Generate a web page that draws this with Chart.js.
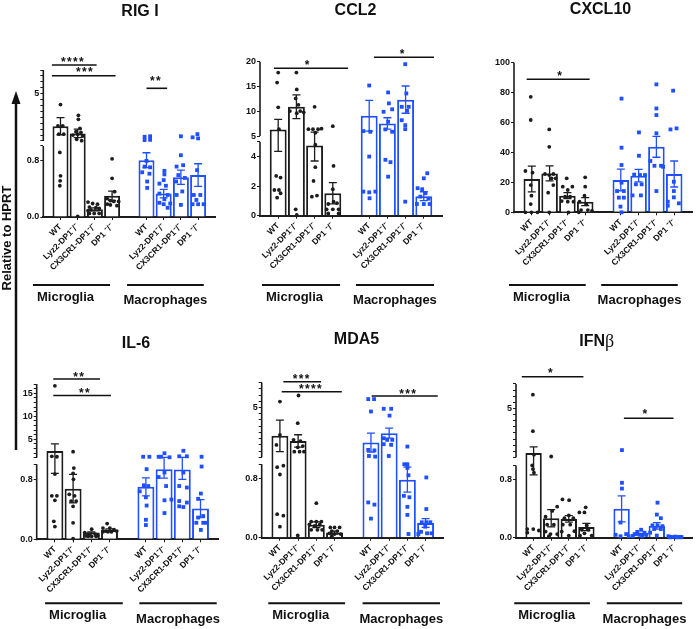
<!DOCTYPE html>
<html><head><meta charset="utf-8">
<script src="https://cdn.jsdelivr.net/npm/chart.js@4.4.1/dist/chart.umd.min.js"></script>
<style>
html,body{margin:0;padding:0;background:#fff;}
body{width:696px;height:629px;position:relative;overflow:hidden;font-family:"Liberation Sans",Arial,sans-serif;}
canvas{position:absolute;}
#ylab{position:absolute;left:-63px;top:230px;width:140px;height:16px;line-height:16px;text-align:center;font-weight:bold;font-size:13px;transform:rotate(-90deg);color:#111;white-space:nowrap;}
#arrow{position:absolute;left:0;top:0;}
</style></head><body>
<canvas id="c1"></canvas><canvas id="c2"></canvas><canvas id="c3"></canvas>
<canvas id="c4"></canvas><canvas id="c5"></canvas><canvas id="c6"></canvas>
<svg id="arrow" width="30" height="629"><line x1="16" y1="100" x2="16" y2="450" stroke="#111" stroke-width="2.5"/><polygon points="16,91 11.5,104 20.5,104" fill="#111"/></svg>
<div id="ylab">Relative to HPRT</div>
<script>
// ---------------- DATA ----------------
const categories = ['WT', 'Lyz2-DP1⁻/⁻', 'CX3CR1-DP1⁻/⁻', 'DP1 ⁻/⁻'];
const groups = ['Microglia', 'Macrophages'];

// RIG I
const rigI_mean = [2.25, 1.64, 0.108, 0.30, 0.80, 0.33, 0.56, 0.59];
const rigI_sem  = [0.72, 0.36, 0.02, 0.065, 0.105, 0.06, 0.10, 0.16];
const rigI_pts = [
 [[0,4.08],[-0.15,2.28],[0.13,2.28],[-0.1,1.58],[0.19,1.58],[-0.04,0.91],[0,0.58],[-0.02,0.51],[-0.04,0.44]],
 [[0.04,3.17],[0.04,2.83],[0.13,2.06],[-0.1,1.78],[0.19,1.72],[-0.28,1.5],[0,1.56],[0.28,1.42],[-0.06,1.14],[0.23,1.03],[0,0.01]],
 [[-0.4,0.21],[-0.13,0.19],[0.15,0.18],[-0.32,0.14],[0.06,0.13],[0.25,0.12],[-0.23,0.10],[-0.4,0.09],[-0.04,0.05],[0.25,0.05],[-0.32,0.05]],
 [[0,0.82],[0,0.545],[0.15,0.356],[-0.28,0.26],[-0.1,0.23],[0.1,0.22],[0.38,0.22],[-0.28,0.18],[-0.1,0.17],[0.28,0.16]],
 [[-0.11,1.36],[0.21,1.4],[-0.11,1.08],[0.21,1.1],[0,0.79],[-0.11,0.71],[0.21,0.70],[-0.25,0.63],[0.17,0.61],[0.04,0.50],[0.04,0.41]],
 [[0.04,0.65],[0.04,0.60],[0,0.52],[-0.25,0.47],[0.13,0.44],[-0.25,0.33],[0.23,0.31],[0.04,0.25],[-0.25,0.20],[0,0.18],[0.38,0.19],[0.23,0.13]],
 [[0,1.4],[0,0.87],[0.13,0.73],[-0.25,0.71],[-0.15,0.59],[0.23,0.55],[-0.28,0.50],[0.08,0.36],[-0.25,0.31],[0,0.17]],
 [[-0.32,1.31],[-0.04,1.58],[0,1.22],[-0.06,0.66],[-0.25,0.31],[0.13,0.31],[-0.1,0.24],[-0.32,0.18],[0,0.18],[0.32,0.18]]
];
const rigI_yTicksLow = [0, 0.8], rigI_yTextLow = ['0.0', '0.8'];
const rigI_yTicksUp = [5], rigI_yTextUp = ['5'];

// CCL2
const ccl2_mean = [6.35, 10.9, 4.75, 1.52, 9.1, 7.55, 12.35, 1.32];
const ccl2_sem  = [2.0, 2.4, 1.05, 0.72, 3.1, 1.15, 2.75, 0.3];
const ccl2_pts = [
 [[0,17.8],[-0.06,15.8],[0,10.8],[0.04,6.4],[-0.11,2.69],[0.13,2.58],[-0.21,1.74],[0.04,1.74],[0.13,1.52],[-0.06,1.22]],
 [[0,17.8],[0.02,14.4],[-0.04,12.6],[0.11,11.3],[-0.36,10.05],[0.21,10.05],[0.4,9.8],[0.02,9.6],[-0.04,0.43],[0.02,0.05]],
 [[0,10.9],[-0.34,6.4],[-0.09,6.4],[0.19,6.4],[0.38,6.5],[0.04,5.67],[0.04,4.8],[0.04,3.28],[-0.06,2.35],[-0.15,1.29],[0.13,1.36]],
 [[0,7.0],[0.04,3.37],[0,1.79],[0.04,0.95],[-0.25,0.79],[0.23,0.85],[-0.34,0.43],[0,0.43],[0.32,0.43],[-0.25,0.15],[0.32,0.15]],
 [[0,15.2],[-0.32,6.0],[0.06,5.87],[0,4.0],[-0.32,1.63],[0,1.58],[0.34,1.63],[0.02,1.18]],
 [[0.04,13.8],[0.08,11.6],[-0.21,9.9],[0.26,10.4],[0.04,7.9],[-0.11,6.35],[0.26,5.87],[-0.11,3.78],[0.17,3.62],[0.04,2.64]],
 [[-0.02,19.5],[0.04,13.6],[-0.21,10.9],[0.17,10.9],[0.08,10.1],[-0.21,8.2],[-0.02,7.2],[-0.02,6.4],[-0.02,0.95]],
 [[0.19,2.87],[0,2.53],[-0.34,1.86],[-0.09,1.79],[0.09,1.52],[-0.19,1.29],[0.25,1.15],[-0.38,0.79],[0,0.79],[0.32,0.79]]
];
const ccl2_yTicksLow = [0, 2, 4], ccl2_yTextLow = ['0', '2', '4'];
const ccl2_yTicksUp = [5, 10, 15, 20], ccl2_yTextUp = ['5', '10', '15', '20'];

// CXCL10
const cxcl10_mean = [22.2, 26.0, 11.1, 7.1, 21.6, 24.5, 43.8, 25.6];
const cxcl10_sem  = [8.6, 5.0, 2.0, 2.7, 7.2, 4.2, 7.0, 8.7];
const cxcl10_pts = [
 [[-0.06,77.2],[-0.06,61.7],[-0.36,27.6],[0.04,26.5],[-0.06,18.2],[-0.02,11.1],[-0.06,5.5],[-0.36,0],[-0.02,0],[0.32,0]],
 [[-0.02,55.4],[-0.02,43.8],[-0.26,25.6],[-0.02,24.9],[0.21,25.6],[0.11,22.7],[0.34,22.7],[0.21,18.2],[-0.08,13.1],[-0.02,0]],
 [[-0.04,22.7],[0.02,14.9],[0.28,17.1],[-0.26,17.1],[-0.13,10.4],[0.15,10.4],[-0.32,7.5],[0.02,7.1],[0.34,7.1],[0.06,0]],
 [[0,23.4],[0,17.1],[-0.04,11.1],[-0.32,7.1],[0.06,5.3],[-0.23,1.5],[0.15,1.5],[0.38,1.0],[-0.36,0]],
 [[0.04,76],[0.04,43.2],[0.04,31.6],[0.04,19.8],[-0.21,14.2],[0.17,14.2],[-0.11,9.8],[0.17,9.8],[-0.02,3.8],[0.04,0]],
 [[0.02,53.4],[0.02,37.8],[-0.25,25.2],[0.08,24.9],[0.36,24.9],[-0.15,18.7],[0.17,18.7],[-0.34,11.3],[0.13,11.3]],
 [[0,85.5],[0,69.4],[0,65],[0,52.8],[-0.34,34.3],[-0.11,31.1],[0.26,31.1],[0.38,30.4],[0,14.2]],
 [[-0.06,81.3],[0.13,56.1],[-0.21,55.4],[-0.02,20.4],[-0.02,14.2],[-0.02,10],[-0.36,7.1],[-0.36,4.4],[0.26,6.0]]
];
const cxcl10_yTicks = [0, 20, 40, 60, 80, 100], cxcl10_yText = ['0', '20', '40', '60', '80', '100'];

// IL-6
const il6_mean = [2.43, 0.675, 0.09, 0.125, 0.70, 0.935, 0.93, 0.41];
const il6_sem  = [1.55, 0.19, 0.01, 0.015, 0.12, 0.12, 0.13, 0.12];
const il6_pts = [
 [[0,16.6],[-0.17,1.3],[0.11,1.2],[0,0.87],[-0.17,0.58],[0.11,0.58],[0,0.52],[-0.06,0.24],[0,0.17]],
 [[0,2.3],[0.04,0.95],[0,0.88],[0.02,0.8],[-0.21,0.6],[0.08,0.58],[-0.11,0.51],[0.17,0.51],[0,0.44],[0,0.22],[0,0.01]],
 [[0.02,0.135],[-0.36,0.09],[-0.17,0.07],[0.21,0.07],[-0.08,0.06],[0.36,0.05],[-0.3,0.045],[0.02,0.04],[0.26,0.04],[-0.17,0.04]],
 [[-0.13,0.21],[-0.36,0.15],[0.02,0.15],[0.25,0.13],[-0.21,0.11],[0.11,0.10],[0.4,0.11],[-0.36,0.10],[-0.08,0.10]],
 [[-0.15,1.2],[0.19,1.2],[0.04,0.935],[-0.11,0.72],[0.13,0.71],[-0.34,0.64],[0,0.56],[0.04,0.45],[0,0.26],[0,0.19]],
 [[-0.3,1.2],[0.02,1.96],[0.3,1.09],[-0.17,1.2],[0.02,0.89],[-0.3,0.83],[0.11,0.71],[0.02,0.52],[0.4,0.53],[0.02,0.35]],
 [[0.06,2.5],[-0.17,1.3],[0.25,1.3],[0.06,0.89],[-0.17,0.71],[0.25,0.69],[-0.17,0.51],[0.25,0.49],[-0.17,0.44],[0.06,0.43]],
 [[0.06,1.2],[0.06,0.97],[0.02,0.61],[-0.13,0.54],[0.15,0.31],[-0.13,0.29],[-0.23,0.22],[0.15,0.22],[0.34,0.22],[0.02,0.125]]
];
const il6_yTicksLow = [0, 0.8], il6_yTextLow = ['0.0', '0.8'];
const il6_yTicksUp = [5, 10, 15], il6_yTextUp = ['5', '10', '15'];

// MDA5
const mda5_mean = [2.72, 2.31, 0.176, 0.07, 2.18, 2.94, 0.79, 0.2];
const mda5_sem  = [1.27, 0.5, 0.04, 0.02, 0.76, 0.4, 0.17, 0.06];
const mda5_pts = [
 [[0,5.48],[0,2.8],[-0.19,1.99],[-0.15,0.96],[0.19,0.98],[0,0.86],[-0.15,0.32],[0.19,0.30],[0,0.15]],
 [[0.02,5.97],[-0.02,3.74],[-0.25,2.4],[0.13,2.3],[0.26,1.9],[-0.02,1.8],[-0.21,1.45],[0.08,1.45],[0.32,1.45],[-0.02,0.03]],
 [[0,0.47],[-0.28,0.22],[0,0.22],[0.28,0.22],[-0.38,0.18],[-0.09,0.16],[0.19,0.18],[-0.28,0.107],[0.06,0.107],[0.32,0.107]],
 [[-0.23,0.14],[0,0.14],[0.28,0.14],[-0.15,0.09],[0.15,0.09],[-0.28,0.06],[0,0.05],[0.34,0.05],[-0.15,0.02]],
 [[-0.15,5.68],[0.17,5.68],[0,4.68],[-0.15,1.59],[0.19,1.55],[-0.11,1.1],[0.23,1.05],[-0.15,0.48],[0.19,0.45],[0,0.26]],
 [[-0.3,4.9],[0.11,4.9],[0.02,4.35],[-0.3,2.53],[-0.11,2.4],[0.17,2.4],[-0.3,2.05],[0.11,2.0],[-0.02,1.1]],
 [[0,1.86],[-0.17,1.0],[0,1.0],[0,0.95],[0.06,0.85],[-0.19,0.57],[0.11,0.55],[0,0.42],[0,0.31],[0.06,0.05]],
 [[0.04,0.82],[0.04,0.39],[-0.21,0.21],[0.04,0.21],[0.26,0.21],[-0.02,0.15],[-0.25,0.08],[0.08,0.06],[0.32,0.06],[-0.4,0.05]]
];
const mda5_yTicksLow = [0, 0.8], mda5_yTextLow = ['0.0', '0.8'];
const mda5_yTicksUp = [5], mda5_yTextUp = ['5'];

// IFNβ
const ifnb_mean = [1.37, 0.27, 0.26, 0.147, 0.40, 0.05, 0.165, 0.01];
const ifnb_sem  = [0.5, 0.12, 0.045, 0.05, 0.18, 0.01, 0.045, 0.003];
const ifnb_pts = [
 [[-0.04,6.13],[-0.04,3.15],[0.02,1.23],[-0.08,1.0],[-0.04,0.95],[0.02,0.9],[-0.36,0.12],[-0.02,0.12],[0.3,0.1],[-0.36,0.07]],
 [[0,1.08],[0.34,0.43],[0.06,0.37],[-0.32,0.29],[0.15,0.18],[-0.23,0.18],[-0.32,0.085],[-0.04,0.05],[0.34,0.05],[-0.13,0.02]],
 [[-0.36,0.53],[0.02,0.52],[0,0.31],[-0.25,0.27],[0.26,0.27],[-0.34,0.18],[0.08,0.18],[-0.4,0.085],[0.32,0.09],[0,0.03]],
 [[-0.04,0.42],[-0.11,0.35],[-0.4,0.35],[0.02,0.17],[-0.26,0.11],[0.11,0.11],[-0.11,0.06],[-0.36,0.03],[0.3,0.03]],
 [[0.02,1.6],[0.02,0.76],[0.02,0.68],[-0.06,0.21],[-0.34,0.04],[-0.06,0.02],[0.26,0.05],[0.4,0.02]],
 [[0.11,0.11],[-0.11,0.08],[0.3,0.07],[-0.26,0.05],[0.02,0.04],[0.4,0.04],[-0.36,0.02],[0.17,0.02]],
 [[0.04,0.485],[0,0.32],[0.23,0.27],[-0.25,0.17],[0.04,0.17],[0.32,0.16],[-0.15,0.12],[0.23,0.12],[-0.38,0.07],[0,0.03]],
 [[-0.34,0.02],[-0.15,0.01],[0.04,0.015],[0.23,0.01],[0.4,0.01],[-0.25,0.005],[0.11,0.005],[0.32,0.005]]
];
const ifnb_yTicksLow = [0, 0.8], ifnb_yTextLow = ['0.0', '0.8'];
const ifnb_yTicksUp = [5], ifnb_yTextUp = ['5'];

// ---------------- STYLE / LAYOUT ----------------
const FONT = '"Liberation Sans", Arial, Helvetica, sans-serif';
const MIC = '#1c1c1c', MAC = '#1f50ff';
const SLOTS = [1, 2, 3, 4, 6, 7, 8, 9];
const EPS = 1e-6;

// broken (two-segment) linear axis, built on Chart.js LinearScale
const LinearScale = Chart.LinearScale || Chart.registry.getScale('linear');
class BrokenScale extends LinearScale {
  getPixelForValue(value) {
    const b = this.$brk;
    if (!b) return super.getPixelForValue(value);
    const h = this.bottom - this.top;
    const lowH = h * b.lowFrac, upH = h - lowH - b.gap;
    if (value <= b.lowMax) return this.bottom - lowH * (value / b.lowMax);
    const f = Math.max(0, (value - b.upMin) / (b.upMax - b.upMin));
    return this.bottom - lowH - b.gap - upH * f;
  }
  getValueForPixel(pixel) {
    const b = this.$brk;
    if (!b) return super.getValueForPixel(pixel);
    const h = this.bottom - this.top;
    const lowH = h * b.lowFrac, upH = h - lowH - b.gap;
    const d = this.bottom - pixel;
    if (d <= lowH) return b.lowMax * d / lowH;
    return b.upMin + (b.upMax - b.upMin) * Math.max(0, d - lowH - b.gap) / upH;
  }
}
BrokenScale.id = 'broken';
BrokenScale.defaults = LinearScale.defaults;
Chart.register(BrokenScale);

const panels = [
 {id:'c1', L:18, T:0, W:222, H:312, area:{l:43.3, t:70, r:215.3, b:217},
  title:[['RIG I']], titleX:140, titleY:12,
  mean:rigI_mean, sem:rigI_sem, pts:rigI_pts,
  yLow:rigI_yTicksLow, yLowT:rigI_yTextLow, yUp:rigI_yTicksUp, yUpT:rigI_yTextUp,
  brk:{lowMax:1, upMin:1, upMax:7, lowFrac:0.483, gap:5, step:0.5},
  sig:[{x1:0.5,x2:3.1,y:65,t:'****',tx:1.73,ty:59.3},{x1:0.5,x2:4.2,y:75.7,t:'***',tx:2.42,ty:69.3},{x1:6.0,x2:7.2,y:88.3,t:'**',tx:6.55,ty:77.7}],
  spans:[[-0.6,3.88],[4.87,9.33]], lineY:285, textY:[301,304]},
 {id:'c2', L:236, T:0, W:228, H:312, area:{l:260, t:61.7, r:442, b:215.7},
  title:[['CCL2']], titleX:355.5, titleY:11,
  mean:ccl2_mean, sem:ccl2_sem, pts:ccl2_pts,
  yLow:ccl2_yTicksLow, yLowT:ccl2_yTextLow, yUp:ccl2_yTicksUp, yUpT:ccl2_yTextUp,
  brk:{lowMax:5, upMin:5, upMax:20, lowFrac:0.48, gap:5.7, step:5},
  sig:[{x1:0.77,x2:4.84,y:68.3,t:'*',tx:2.62,ty:61.7},{x1:6.26,x2:9.56,y:57.3,t:'*',tx:7.84,ty:51}],
  spans:[[0.11,4.4],[5.27,9.56]], lineY:285, textY:[301,304]},
 {id:'c3', L:470, T:0, W:226, H:312, area:{l:514, t:62.7, r:695, b:212.3},
  title:[['CXCL10']], titleX:600.5, titleY:10,
  mean:cxcl10_mean, sem:cxcl10_sem, pts:cxcl10_pts,
  yTicks:cxcl10_yTicks, yText:cxcl10_yText, yMax:100,
  sig:[{x1:0.71,x2:4.25,y:79.3,t:'*',tx:2.6,ty:73.3}],
  spans:[[-0.28,4.03],[4.9,9.2]], lineY:285, textY:[301,304]},
 {id:'c4', L:18, T:318, W:222, H:311, area:{l:36.7, t:384, r:218.7, b:539.3},
  title:[['IL-6']], titleX:136, titleY:344,
  mean:il6_mean, sem:il6_sem, pts:il6_pts,
  yLow:il6_yTicksLow, yLowT:il6_yTextLow, yUp:il6_yTicksUp, yUpT:il6_yTextUp,
  brk:{lowMax:1, upMin:1, upMax:17, lowFrac:0.483, gap:6.6, step:1},
  sig:[{x1:0.91,x2:3.48,y:379,t:'**',tx:2.34,ty:374},{x1:0.91,x2:4.08,y:395.5,t:'**',tx:2.65,ty:390}],
  spans:[[0.46,4.73],[5.64,9.89]], lineY:603.3, textY:[619,623]},
 {id:'c5', L:236, T:318, W:228, H:311, area:{l:261.7, t:382.7, r:443.8, b:537.7},
  title:[['MDA5']], titleX:356.5, titleY:340,
  mean:mda5_mean, sem:mda5_sem, pts:mda5_pts,
  yLow:mda5_yTicksLow, yLowT:mda5_yTextLow, yUp:mda5_yTicksUp, yUpT:mda5_yTextUp,
  brk:{lowMax:1, upMin:1, upMax:7, lowFrac:0.474, gap:7, step:0.5},
  sig:[{x1:1.19,x2:3.26,y:381.7,t:'***',tx:2.2,ty:376},{x1:1.1,x2:4.4,y:391.7,t:'****',tx:2.71,ty:386},{x1:6.04,x2:9.67,y:396,t:'***',tx:8.05,ty:391}],
  spans:[[0.36,4.58],[5.54,9.79]], lineY:603.3, textY:[619,623]},
 {id:'c6', L:470, T:318, W:226, H:311, area:{l:516, t:384, r:695, b:537.7},
  title:[['IFN'],['β','18px "Liberation Serif", "DejaVu Serif", serif']], titleX:596.7, titleY:342,
  mean:ifnb_mean, sem:ifnb_sem, pts:ifnb_pts,
  yLow:ifnb_yTicksLow, yLowT:ifnb_yTextLow, yUp:ifnb_yTicksUp, yUpT:ifnb_yTextUp,
  brk:{lowMax:1, upMin:1, upMax:7, lowFrac:0.47, gap:8, step:0.5},
  sig:[{x1:0.33,x2:3.83,y:376.7,t:'*',tx:1.99,ty:370},{x1:6.13,x2:8.95,y:418.3,t:'*',tx:7.36,ty:410.5}],
  spans:[[-0.1,4.2],[5.16,9.44]], lineY:603.3, textY:[619,623]}
];

function xLabel(v) {
  const i = SLOTS.indexOf(v);
  return i < 0 ? '' : categories[i % 4];
}

function yTickList(p) {
  const out = [];
  if (!p.brk) {
    p.yTicks.forEach((v, i) => out.push({value: v, lbl: p.yText[i]}));
    return out;
  }
  const b = p.brk;
  p.yLow.forEach((v, i) => out.push({value: v, lbl: p.yLowT[i]}));
  if (p.yLow.indexOf(b.lowMax) < 0) out.push({value: b.lowMax, lbl: ''});
  for (let k = 0; ; k++) {
    const v = Math.round((b.upMin + k * b.step) * 1000) / 1000;
    if (v > b.upMax + EPS) break;
    const j = p.yUp.indexOf(v);
    out.push({value: v === b.upMin ? v + EPS : v, lbl: j >= 0 ? p.yUpT[j] : ''});
  }
  return out;
}

function makeDeco(p) {
  return {
    id: 'deco_' + p.id,
    beforeDatasetsDraw(chart) {
      const ctx = chart.ctx, ys = chart.scales.y, ca = chart.chartArea;
      ctx.save();
      ctx.strokeStyle = MIC; ctx.lineWidth = 1.6;
      const segs = p.brk ? [[0, p.brk.lowMax], [p.brk.upMin + EPS, p.brk.upMax]] : [[0, p.yMax]];
      segs.forEach(([a, b]) => {
        ctx.beginPath();
        ctx.moveTo(ca.left, ys.getPixelForValue(a) + (a === 0 ? 1 : 0));
        ctx.lineTo(ca.left, ys.getPixelForValue(b));
        ctx.stroke();
      });
      ctx.restore();
    },
    afterDatasetsDraw(chart) {
      const ctx = chart.ctx, xs = chart.scales.x, ys = chart.scales.y;
      ctx.save();
      ctx.lineWidth = 1.3;
      p.mean.forEach((m, i) => {
        const x = xs.getPixelForValue(SLOTS[i]);
        const hi = ys.getPixelForValue(m + p.sem[i]);
        const lo = ys.getPixelForValue(Math.max(0, m - p.sem[i]));
        ctx.strokeStyle = i < 4 ? MIC : MAC;
        ctx.beginPath();
        ctx.moveTo(x, hi); ctx.lineTo(x, lo);
        ctx.moveTo(x - 4, hi); ctx.lineTo(x + 4, hi);
        ctx.moveTo(x - 4, lo); ctx.lineTo(x + 4, lo);
        ctx.stroke();
      });
      ctx.restore();
    },
    afterDraw(chart) {
      const ctx = chart.ctx, xs = chart.scales.x;
      ctx.save();
      // title
      const runs = p.title.map(r => ({t: r[0], f: r[1] || ('bold 16px ' + FONT)}));
      let tw = 0;
      runs.forEach(r => { ctx.font = r.f; r.w = ctx.measureText(r.t).width; tw += r.w; });
      let tx = p.titleX - p.L - tw / 2;
      ctx.fillStyle = '#111'; ctx.textBaseline = 'middle'; ctx.textAlign = 'left';
      runs.forEach(r => { ctx.font = r.f; ctx.fillText(r.t, tx, p.titleY - p.T); tx += r.w; });
      // significance bars
      ctx.strokeStyle = '#111'; ctx.lineWidth = 1.6;
      ctx.font = 'bold 12px ' + FONT; ctx.textAlign = 'center'; ctx.textBaseline = 'alphabetic';
      try { ctx.letterSpacing = '1.3px'; } catch (e) {}
      p.sig.forEach(s => {
        const y = s.y - p.T;
        ctx.beginPath();
        ctx.moveTo(xs.getPixelForValue(s.x1), y);
        ctx.lineTo(xs.getPixelForValue(s.x2), y);
        ctx.stroke();
        ctx.fillText(s.t, xs.getPixelForValue(s.tx), s.ty - p.T + 7);
      });
      try { ctx.letterSpacing = '0px'; } catch (e) {}
      // group lines & labels
      ctx.lineWidth = 2;
      ctx.font = 'bold 13px ' + FONT;
      p.spans.forEach((sp, g) => {
        const a = xs.getPixelForValue(sp[0]), b = xs.getPixelForValue(sp[1]);
        const y = p.lineY - p.T;
        ctx.beginPath(); ctx.moveTo(a, y); ctx.lineTo(b, y); ctx.stroke();
        if (g === 0) { ctx.textAlign = 'left'; ctx.fillText(groups[g], a + 4, p.textY[g] - p.T); }
        else { ctx.textAlign = 'center'; ctx.fillText(groups[g], (a + b) / 2, p.textY[g] - p.T); }
      });
      ctx.restore();
    }
  };
}

function makeChart(p) {
  const cv = document.getElementById(p.id);
  cv.width = p.W; cv.height = p.H;
  cv.style.left = p.L + 'px'; cv.style.top = p.T + 'px';
  cv.style.width = p.W + 'px'; cv.style.height = p.H + 'px';
  const micPts = [], macPts = [];
  p.pts.forEach((grp, gi) => grp.forEach(([dx, y]) => (gi < 4 ? micPts : macPts).push({x: SLOTS[gi] + dx, y: y})));
  const bars = p.mean.map((m, i) => ({x: SLOTS[i], y: m}));
  const yw = p.area.l - p.L, xh = p.T + p.H - p.area.b;
  new Chart(cv, {
    type: 'bar',
    data: {datasets: [
      {type: 'bar', data: bars, order: 3, backgroundColor: '#ffffff',
       borderColor: SLOTS.map((s, i) => i < 4 ? MIC : MAC), borderWidth: 2,
       barPercentage: 0.93, categoryPercentage: 1},
      {type: 'scatter', data: micPts, order: 1, pointStyle: 'circle', pointRadius: 1.9,
       backgroundColor: MIC, borderWidth: 0, clip: false},
      {type: 'scatter', data: macPts, order: 1, pointStyle: 'rect', pointRadius: 2.7,
       backgroundColor: MAC, borderWidth: 0, clip: false}
    ]},
    options: {
      responsive: false, animation: false, devicePixelRatio: 1, events: [],
      layout: {padding: {left: 0, top: p.area.t - p.T, right: p.L + p.W - p.area.r, bottom: 0}},
      plugins: {legend: {display: false}, tooltip: {enabled: false}, title: {display: false}},
      scales: {
        x: {type: 'linear', min: 0, max: 10, offset: false,
            grid: {display: true, drawOnChartArea: false, drawTicks: true, tickLength: 3, color: MIC, offset: false},
            border: {display: true, color: MIC, width: 2},
            ticks: {autoSkip: false, minRotation: 45, maxRotation: 45, padding: 2, color: '#111',
                    font: {family: FONT, size: 8.5, weight: 'bold'}, callback: (v) => xLabel(v)},
            afterBuildTicks: s => { s.ticks = SLOTS.map(v => ({value: v})); },
            afterFit: s => { s.height = xh; }},
        y: {type: p.brk ? 'broken' : 'linear', min: 0, max: p.brk ? p.brk.upMax : p.yMax,
            grid: {display: true, drawOnChartArea: false, drawTicks: true, tickLength: 3, color: MIC},
            border: {display: false},
            ticks: {autoSkip: false, padding: 1, color: '#111', font: {family: FONT, size: 9, weight: 'bold'},
                    callback: (v, i, t) => (t[i] && t[i].lbl) || ''},
            beforeUpdate: s => { s.$brk = p.brk || null; },
            afterBuildTicks: s => { s.ticks = yTickList(p); },
            afterFit: s => { s.width = yw; }}
      }
    },
    plugins: [makeDeco(p)]
  });
}

panels.forEach(makeChart);
</script>
</body></html>
